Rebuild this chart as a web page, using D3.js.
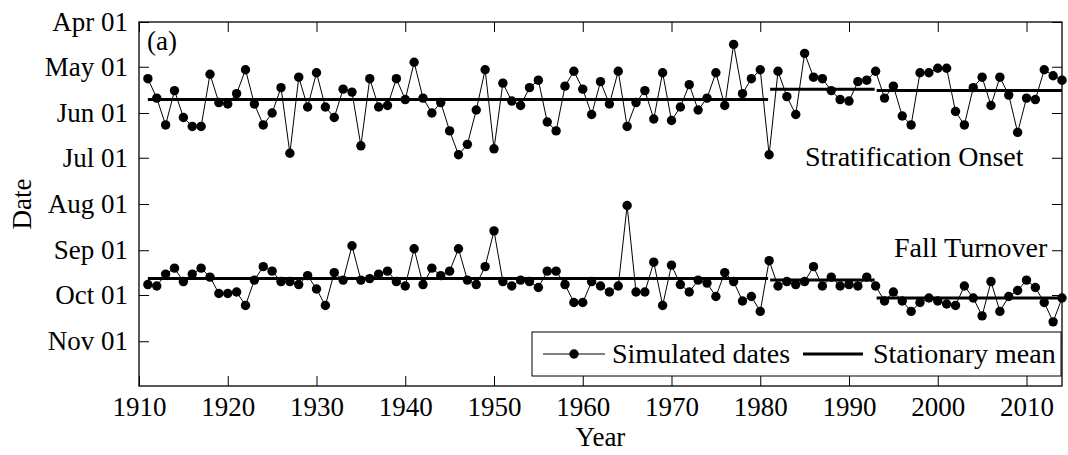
<!DOCTYPE html>
<html>
<head>
<meta charset="utf-8">
<script src="https://cdn.jsdelivr.net/npm/d3@7"></script>
<style>
  body { margin: 0; background: #fff; }
  svg text { font-family: "Liberation Serif", "Times New Roman", Tinos, "Nimbus Roman", "DejaVu Serif", serif !important; fill: #000; }
</style>
</head>
<body>
<svg id="chart"></svg>
<script>
var width = 1068,
    height = 455,
    margin = {top: 22, right: 6, bottom: 69, left: 139};

// simulation years
var years = [
  1911,1912,1913,1914,1915,1916,1917,1918,1919,1920,
  1921,1922,1923,1924,1925,1926,1927,1928,1929,1930,
  1931,1932,1933,1934,1935,1936,1937,1938,1939,1940,
  1941,1942,1943,1944,1945,1946,1947,1948,1949,1950,
  1951,1952,1953,1954,1955,1956,1957,1958,1959,1960,
  1961,1962,1963,1964,1965,1966,1967,1968,1969,1970,
  1971,1972,1973,1974,1975,1976,1977,1978,1979,1980,
  1981,1982,1983,1984,1985,1986,1987,1988,1989,1990,
  1991,1992,1993,1994,1995,1996,1997,1998,1999,2000,
  2001,2002,2003,2004,2005,2006,2007,2008,2009,2010,
  2011,2012,2013,2014
];

// day of year of stratification onset
var onsetDoy = [
  129,142,160,137,155,161,161,126,145,146,
  139,123,146,160,152,135,179,128,148,125,
  148,155,136,138,174,129,148,147,129,143,
  118,142,152,145,164,180,173,150,123,176,
  132,144,147,135,130,158,164,134,124,136,
  153,131,146,124,161,145,137,156,125,157,
  148,133,150,142,125,147,106,139,129,123,
  180,124,141,153,112,128,129,137,143,144,
  131,130,124,142,134,154,160,125,125,122,
  122,151,160,135,128,147,128,140,165,142,
  143,123,127,130
];

// day of year of fall turnover
var turnoverDoy = [
  267,268,260,256,265,260,256,262,273,273,
  272,281,264,255,258,265,265,267,261,270,
  281,259,264,241,264,263,260,258,265,268,
  243,267,256,261,258,243,264,267,255,231,
  265,268,264,265,269,258,258,267,279,279,
  265,268,272,268,214,272,272,252,281,254,
  267,272,264,266,275,259,265,278,275,285,
  251,268,265,267,265,255,268,262,268,267,
  268,262,268,278,272,278,285,279,276,278,
  280,281,268,276,288,265,285,275,271,264,
  269,279,292,276
];

// stationary mean segments
var segStart = [1911, 1981, 1993];
var segEnd = [1981, 1993, 2014];
var onsetMean = [143, 136, 137];
var turnoverMean = [263, 264, 276];

var yTickMonths = ["Apr 01", "May 01", "Jun 01", "Jul 01", "Aug 01", "Sep 01", "Oct 01", "Nov 01"];
var xTickYears = [1910, 1920, 1930, 1940, 1950, 1960, 1970, 1980, 1990, 2000, 2010];

function doyDate(d) { return new Date(2001, 0, d); }
var parseTick = d3.timeParse("%b %d %Y");

var svg = d3.select("#chart")
    .attr("width", width)
    .attr("height", height);

svg.append("rect").attr("width", width).attr("height", height).attr("fill", "#fff");

var iw = width - margin.left - margin.right,
    ih = height - margin.top - margin.bottom;

var g = svg.append("g")
    .attr("transform", "translate(" + margin.left + "," + margin.top + ")");

var x = d3.scaleLinear()
    .domain([1910, 2014])
    .range([0, iw]);

var y = d3.scaleTime()
    .domain([new Date(2001, 3, 1), new Date(2001, 11, 1)])
    .range([0, ih]);

var yTicks = yTickMonths.map(function(s) { return parseTick(s + " 2001"); });

// axes, ticks inside
g.append("g")
    .attr("class", "axis")
    .attr("transform", "translate(0," + ih + ")")
    .call(d3.axisBottom(x).tickValues(xTickYears).tickFormat(d3.format("d"))
      .tickSizeInner(-10).tickSizeOuter(0).tickPadding(11));

g.append("g")
    .attr("class", "axis")
    .call(d3.axisTop(x).tickValues(xTickYears).tickFormat("")
      .tickSizeInner(-10).tickSizeOuter(0));

g.append("g")
    .attr("class", "axis")
    .call(d3.axisLeft(y).tickValues(yTicks).tickFormat(d3.timeFormat("%b %d"))
      .tickSizeInner(-10).tickSizeOuter(0).tickPadding(11));

g.append("g")
    .attr("class", "axis")
    .attr("transform", "translate(" + iw + ",0)")
    .call(d3.axisRight(y).tickValues(yTicks).tickFormat("")
      .tickSizeInner(-10).tickSizeOuter(0));

g.selectAll(".axis").attr("font-family", null);
g.selectAll(".axis .domain").remove();
g.selectAll(".axis text")
    .attr("font-size", 27)
    .attr("fill", "#000");
g.selectAll(".axis line").attr("stroke", "#000").attr("stroke-width", 1);

g.append("rect")
    .attr("width", iw)
    .attr("height", ih)
    .attr("fill", "none")
    .attr("stroke", "#000")
    .attr("stroke-width", 1.3);

// series
var line = d3.line()
    .x(function(d) { return x(d.year); })
    .y(function(d) { return y(doyDate(d.doy)); });

function drawSeries(values, means) {
  var pts = years.map(function(yr, i) { return {year: yr, doy: values[i]}; });
  g.append("path")
      .datum(pts)
      .attr("fill", "none")
      .attr("stroke", "#000")
      .attr("stroke-width", 1)
      .attr("d", line);
  g.selectAll(null)
      .data(pts)
    .enter().append("circle")
      .attr("cx", function(d) { return x(d.year); })
      .attr("cy", function(d) { return y(doyDate(d.doy)); })
      .attr("r", 4.7)
      .attr("fill", "#000");
  g.selectAll(null)
      .data(means)
    .enter().append("line")
      .attr("x1", function(d, i) { return x(segStart[i]) + (i > 0 ? 1 : 0); })
      .attr("x2", function(d, i) { return x(segEnd[i]) - (i < 2 ? 1 : 0); })
      .attr("y1", function(d) { return y(doyDate(d)); })
      .attr("y2", function(d) { return y(doyDate(d)); })
      .attr("stroke", "#000")
      .attr("stroke-width", 3);
}

drawSeries(onsetDoy, onsetMean);
drawSeries(turnoverDoy, turnoverMean);

// annotations
g.append("text").attr("x", 8).attr("y", 28).attr("font-size", 27).text("(a)");
g.append("text").attr("x", 666).attr("y", 144).attr("font-size", 28).text("Stratification Onset");
g.append("text").attr("x", 755).attr("y", 235).attr("font-size", 28).text("Fall Turnover");

// axis titles
svg.append("text")
    .attr("x", margin.left + iw / 2)
    .attr("y", 446)
    .attr("text-anchor", "middle")
    .attr("font-size", 27)
    .text("Year");

svg.append("text")
    .attr("transform", "translate(31," + (margin.top + ih / 2) + ") rotate(-90)")
    .attr("text-anchor", "middle")
    .attr("font-size", 27)
    .text("Date");

// legend
var leg = svg.append("g").attr("transform", "translate(532,332)");
leg.append("rect")
    .attr("width", 529)
    .attr("height", 44)
    .attr("fill", "#fff")
    .attr("stroke", "#000")
    .attr("stroke-width", 1);
leg.append("line").attr("x1", 11).attr("x2", 73).attr("y1", 22).attr("y2", 22)
    .attr("stroke", "#000").attr("stroke-width", 1);
leg.append("circle").attr("cx", 42).attr("cy", 22).attr("r", 4.7).attr("fill", "#000");
leg.append("text").attr("x", 80).attr("y", 31).attr("font-size", 28).text("Simulated dates");
leg.append("line").attr("x1", 271).attr("x2", 331).attr("y1", 22).attr("y2", 22)
    .attr("stroke", "#000").attr("stroke-width", 3);
leg.append("text").attr("x", 341).attr("y", 31).attr("font-size", 28).text("Stationary mean");
</script>
</body>
</html>
